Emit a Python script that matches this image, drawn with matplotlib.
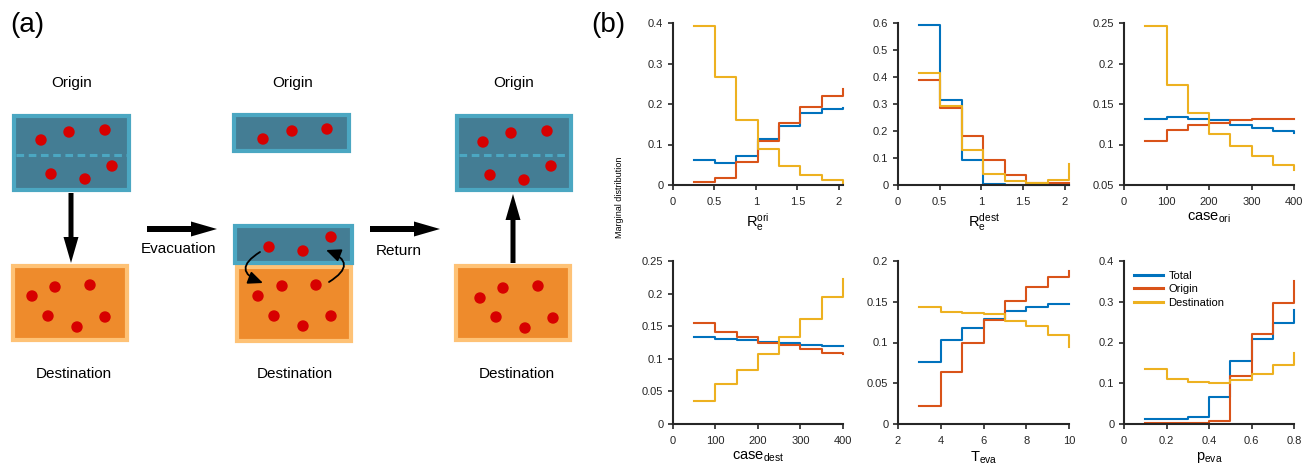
import matplotlib
matplotlib.use("Agg")
import matplotlib.pyplot as plt
from matplotlib.patches import Rectangle, Circle, FancyArrow, FancyArrowPatch

plt.rcParams['font.family'] = ['Liberation Sans', 'DejaVu Sans']
plt.rcParams['mathtext.fontset'] = 'custom'
plt.rcParams['mathtext.rm'] = 'Liberation Sans'
plt.rcParams['mathtext.it'] = 'Liberation Sans:italic'

# ---------------- data for panel (b): stairs, 7 bins + end value ----------------
series_names = ['Total', 'Origin', 'Destination']
colors = ['#0072BD', '#D95319', '#EDB120']

re_ori_edges = [0.25, 0.507, 0.764, 1.021, 1.279, 1.536, 1.793, 2.05]
re_ori_total = [0.062, 0.054, 0.071, 0.114, 0.146, 0.177, 0.188, 0.189]
re_ori_origin = [0.007, 0.018, 0.057, 0.109, 0.154, 0.193, 0.220, 0.236]
re_ori_dest = [0.393, 0.267, 0.160, 0.090, 0.048, 0.024, 0.012, 0.006]

re_dest_edges = [0.25, 0.507, 0.764, 1.021, 1.279, 1.536, 1.793, 2.05]
re_dest_total = [0.591, 0.315, 0.092, 0.003, 0.001, 0.0, 0.0, 0.0]
re_dest_origin = [0.390, 0.287, 0.183, 0.094, 0.037, 0.009, 0.006, 0.006]
re_dest_dest = [0.414, 0.294, 0.129, 0.041, 0.015, 0.007, 0.020, 0.077]

case_ori_edges = [50, 100, 150, 200, 250, 300, 350, 400]
case_ori_total = [0.132, 0.1338, 0.1317, 0.1297, 0.124, 0.120, 0.1165, 0.1137]
case_ori_origin = [0.1046, 0.1178, 0.1235, 0.1268, 0.1297, 0.131, 0.132, 0.132]
case_ori_dest = [0.246, 0.173, 0.1395, 0.1128, 0.098, 0.0857, 0.0742, 0.0685]

case_dest_edges = [50, 100, 150, 200, 250, 300, 350, 400]
case_dest_total = [0.1337, 0.131, 0.1286, 0.1265, 0.1235, 0.1214, 0.1194, 0.1194]
case_dest_origin = [0.1547, 0.1404, 0.1327, 0.125, 0.121, 0.1148, 0.1096, 0.1066]
case_dest_dest = [0.0359, 0.062, 0.083, 0.108, 0.1337, 0.1614, 0.195, 0.2228]

t_eva_edges = [3, 4, 5, 6, 7, 8, 9, 10]
t_eva_total = [0.0758, 0.1029, 0.118, 0.1287, 0.1385, 0.143, 0.1471, 0.1471]
t_eva_origin = [0.0225, 0.0643, 0.100, 0.1275, 0.1508, 0.168, 0.180, 0.188]
t_eva_dest = [0.1439, 0.1373, 0.136, 0.1348, 0.1266, 0.120, 0.1094, 0.094]

p_eva_edges = [0.1, 0.2, 0.3, 0.4, 0.5, 0.6, 0.7, 0.8]
p_eva_total = [0.0115, 0.013, 0.0164, 0.066, 0.155, 0.208, 0.2475, 0.28]
p_eva_origin = [0.0025, 0.0025, 0.003, 0.0066, 0.118, 0.222, 0.296, 0.351]
p_eva_dest = [0.135, 0.110, 0.104, 0.101, 0.107, 0.122, 0.145, 0.175]

panels = [
    (re_ori_edges, [re_ori_total, re_ori_origin, re_ori_dest], r'R$_\mathrm{e}^\mathrm{ori}$',
     (0, 2.05), [0, 0.5, 1, 1.5, 2], ['0', '0.5', '1', '1.5', '2'],
     (0, 0.4), [0, 0.1, 0.2, 0.3, 0.4], ['0', '0.1', '0.2', '0.3', '0.4']),
    (re_dest_edges, [re_dest_total, re_dest_origin, re_dest_dest], r'R$_\mathrm{e}^\mathrm{dest}$',
     (0, 2.05), [0, 0.5, 1, 1.5, 2], ['0', '0.5', '1', '1.5', '2'],
     (0, 0.6), [0, 0.1, 0.2, 0.3, 0.4, 0.5, 0.6], ['0', '0.1', '0.2', '0.3', '0.4', '0.5', '0.6']),
    (case_ori_edges, [case_ori_total, case_ori_origin, case_ori_dest], r'case$_\mathrm{ori}$',
     (0, 400), [0, 100, 200, 300, 400], ['0', '100', '200', '300', '400'],
     (0.05, 0.25), [0.05, 0.1, 0.15, 0.2, 0.25], ['0.05', '0.1', '0.15', '0.2', '0.25']),
    (case_dest_edges, [case_dest_total, case_dest_origin, case_dest_dest], r'case$_\mathrm{dest}$',
     (0, 400), [0, 100, 200, 300, 400], ['0', '100', '200', '300', '400'],
     (0, 0.25), [0, 0.05, 0.1, 0.15, 0.2, 0.25], ['0', '0.05', '0.1', '0.15', '0.2', '0.25']),
    (t_eva_edges, [t_eva_total, t_eva_origin, t_eva_dest], r'T$_\mathrm{eva}$',
     (2, 10), [2, 4, 6, 8, 10], ['2', '4', '6', '8', '10'],
     (0, 0.2), [0, 0.05, 0.1, 0.15, 0.2], ['0', '0.05', '0.1', '0.15', '0.2']),
    (p_eva_edges, [p_eva_total, p_eva_origin, p_eva_dest], r'p$_\mathrm{eva}$',
     (0, 0.8), [0, 0.2, 0.4, 0.6, 0.8], ['0', '0.2', '0.4', '0.6', '0.8'],
     (0, 0.4), [0, 0.1, 0.2, 0.3, 0.4], ['0', '0.1', '0.2', '0.3', '0.4']),
]

W, H = 1310, 472
fig = plt.figure(figsize=(W / 100, H / 100), dpi=100)

# ---------------- panel (a): schematic, drawn in pixel units ----------------
ax_a = fig.add_axes([0, 0, 600 / W, 1])
ax_a.set_xlim(0, 600)
ax_a.set_ylim(472, 0)
ax_a.axis('off')

blue_face, blue_edge = '#447d94', '#4ba7c2'
orange_face, orange_edge = '#ee8b2c', '#fec276'
dot_color = '#d70000'

def box(x0, y0, x1, y1, face, edge, dashed=None):
    ax_a.add_patch(Rectangle((x0 + 2, y0 + 2), x1 - x0 - 4, y1 - y0 - 4,
                             facecolor=face, edgecolor=edge, lw=3))
    if dashed is not None:
        ax_a.plot([x0 + 4, x1 - 4], [dashed, dashed], color=edge, lw=2.2, ls=(0, (2.5, 1.5)))

def dots(pts):
    for x, y in pts:
        ax_a.add_patch(Circle((x, y), 5, color=dot_color, zorder=5))

# left column
box(12, 114, 131, 192, blue_face, blue_edge, dashed=155)
box(11, 264, 129, 342, orange_face, orange_edge)
dots([(41, 140), (69, 132), (105, 130), (51, 174), (85, 179), (112, 166)])
dots([(32, 296), (55, 287), (90, 285), (48, 316), (77, 327), (105, 317)])
ax_a.add_patch(FancyArrow(71, 193, 0, 70, width=5, head_width=15, head_length=26,
                          length_includes_head=True, color='black', lw=0))

# middle column
box(232, 113, 351, 153, blue_face, blue_edge)
box(235, 265, 353, 343, orange_face, orange_edge)
box(233, 224, 354, 265, blue_face, blue_edge)
dots([(263, 139), (292, 131), (327, 129)])
dots([(269, 247), (303, 251), (331, 237)])
dots([(258, 296), (282, 286), (316, 285), (274, 316), (303, 326), (331, 316)])
for a, b in [((260, 252), (263, 283)), ((329, 282), (326, 250))]:
    ax_a.add_patch(FancyArrowPatch(a, b, connectionstyle='arc3,rad=1.0',
                                   arrowstyle='-|>,head_length=0.8,head_width=0.35',
                                   mutation_scale=11, lw=1.3, color='black', zorder=6,
                                   shrinkA=0, shrinkB=0))

# right column
box(455, 114, 573, 192, blue_face, blue_edge, dashed=155)
box(454, 264, 572, 342, orange_face, orange_edge)
dots([(483, 142), (511, 133), (547, 131), (490, 175), (524, 180), (551, 166)])
dots([(480, 298), (503, 288), (538, 286), (496, 317), (525, 328), (553, 318)])
ax_a.add_patch(FancyArrow(513, 263, 0, -69, width=5, head_width=15, head_length=26,
                          length_includes_head=True, color='black', lw=0))

# horizontal arrows
for x0 in [147, 370]:
    ax_a.add_patch(FancyArrow(x0, 229, 70, 0, width=6, head_width=15, head_length=26,
                              length_includes_head=True, color='black', lw=0))

for x in [72, 293, 514]:
    ax_a.text(x, 83, 'Origin', ha='center', va='center', fontsize=11)
for x in [74, 295, 517]:
    ax_a.text(x, 374, 'Destination', ha='center', va='center', fontsize=11)
ax_a.text(178, 249, 'Evacuation', ha='center', va='center', fontsize=11)
ax_a.text(399, 251, 'Return', ha='center', va='center', fontsize=11)
ax_a.text(27, 25, '(a)', ha='center', va='center', fontsize=20)

fig.text(608 / W, 1 - 25 / H, '(b)', ha='center', va='center', fontsize=20)

# ---------------- panel (b): stairs ----------------
col_left = [673, 898, 1124]
col_width = [170, 171, 170]
row_top = [23, 261]
row_height = [162, 163]

axes = []
for i, (edges, ys, xlabel, xlim, xt, xtl, ylim, yt, ytl) in enumerate(panels):
    r, c = divmod(i, 3)
    ax = fig.add_axes([col_left[c] / W, 1 - (row_top[r] + row_height[r]) / H,
                       col_width[c] / W, row_height[r] / H])
    for y, col, name in zip(ys, colors, series_names):
        ax.step(edges, y, where='post', color=col, lw=1.5, label=name, clip_on=False)
    ax.set_xlim(*xlim)
    ax.set_ylim(*ylim)
    ax.set_xticks(xt)
    ax.set_xticklabels(xtl)
    ax.set_yticks(yt)
    ax.set_yticklabels(ytl)
    ax.set_xlabel(xlabel, fontsize=10.5, labelpad=3)
    for s in ['top', 'right']:
        ax.spines[s].set_visible(False)
    for s in ['left', 'bottom']:
        ax.spines[s].set_linewidth(1.5)
        ax.spines[s].set_color('#262626')
    ax.tick_params(direction='out', length=3.5, width=1.2, labelsize=8,
                   colors='#262626')
    ax.tick_params(axis='x', pad=5)
    ax.tick_params(axis='y', pad=3.5)
    axes.append(ax)

axes[5].legend(loc='upper left', frameon=False, fontsize=8, handlelength=2.6,
               handletextpad=0.5, labelspacing=0.3, borderaxespad=0.5)
for h in axes[5].get_legend().get_lines():
    h.set_linewidth(2.2)

fig.text(620 / W, 1 - 197 / H, 'Marginal distribution', rotation=90,
         ha='center', va='center', fontsize=6.5)

fig.savefig('out.png', dpi=100)
